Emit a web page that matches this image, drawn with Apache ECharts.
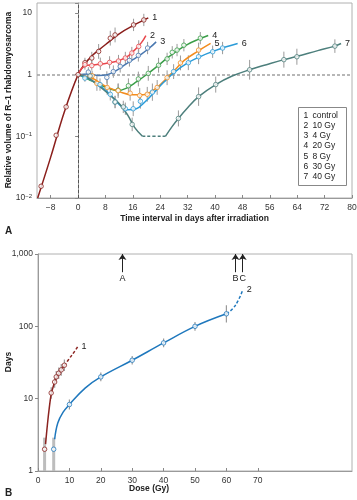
<!DOCTYPE html>
<html><head><meta charset="utf-8">
<script src="https://cdn.jsdelivr.net/npm/echarts@6/dist/echarts.min.js"></script>
<style>html,body{margin:0;padding:0;background:#fff}#c{width:357px;height:500px}</style>
</head><body><div id="c"></div>
<script>
// ===== Panel A: relative tumour volume vs time =====
const xTicksA = [-8,0,8,16,24,32,40,48,56,64,72,80];
const legendNums = ['1','2','3','4','5','6','7'];
const legendNames = ['control','10 Gy','4 Gy','20 Gy','8 Gy','30 Gy','40 Gy'];

// 1 control
const c1Line = [[-11.8,0.01],[-8,0.046],[-4,0.25],[0,1],[2,1.5],[4,2.0],[6,2.5],[9,3.4],[12,4.6],[16,6.2],[20.5,8.3]];
const c1Pts  = [[-10.8,0.0155],[-6.4,0.104],[-3.5,0.3],[0,1],[2,1.56],[4,1.86],[6,2.38],[9.4,3.9],[10.8,4.4],[16.2,6.4],[19.2,7.7]];
const c1Err  = [0.04,0.03,0.03,0,0.08,0.1,0.12,0.12,0.12,0.1,0.1];
// 2 10 Gy
const c2Line = [[0,1],[2,1.38],[5,1.45],[8,1.52],[11,1.63],[14,1.9],[16.5,2.5],[18.5,3.3],[19.8,4.3]];
const c2Pts  = [[2,1.45],[4,1.4],[6.5,1.5],[9.2,1.58],[11.8,1.66],[13.8,1.86],[15.7,2.24],[17.7,2.87]];
const c2Err  = [0.08,0.08,0.1,0.1,0.1,0.1,0.1,0.1];
// 3 4 Gy
const c3Line = [[0,1],[3,1.02],[6,0.97],[8.5,1.0],[11,1.15],[13.5,1.42],[16,1.75],[18.5,2.15],[21,2.75],[22.8,3.4]];
const c3Pts  = [[3,1.1],[8.4,0.9],[10.3,1.12],[12.3,1.36],[15,1.7],[17.6,2.05],[20.3,2.7]];
const c3Err  = [0.08,0.1,0.1,0.1,0.1,0.1,0.1];
// 4 20 Gy
const c4Line = [[0,1],[3,0.84],[6,0.7],[9,0.6],[11.5,0.55],[14,0.6],[17,0.76],[20,1.0],[23,1.35],[26,1.85],[29,2.45],[32,3.1],[35,3.7],[38,4.3]];
const c4Pts  = [[11.7,0.56],[14.7,0.66],[17.6,0.85],[20.5,1.05],[23.5,1.42],[26,1.8],[27.5,2.3],[28.9,2.5],[30.9,3.0],[35.7,3.9]];
const c4Err  = [0.1,0.12,0.12,0.12,0.12,0.1,0.1,0.1,0.1,0.1];
// 5 8 Gy
const c5Line = [[0,1],[4,0.88],[8,0.65],[12,0.53],[16,0.47],[19,0.47],[22,0.56],[25,0.78],[28,1.15],[31,1.7],[35,2.4],[38.7,3.2]];
const c5Pts  = [[4.1,0.96],[5.5,0.72],[8.5,0.62],[11.7,0.55],[15.2,0.5],[18,0.46],[20.2,0.48],[23.1,0.62],[26,0.89],[29.9,1.55],[35.2,2.5]];
const c5Err  = [0.08,0.12,0.12,0.12,0.12,0.12,0.12,0.12,0.12,0.12,0.12];
// 6 30 Gy
const c6Line = [[0,1],[3,0.86],[6,0.68],[9,0.5],[12,0.33],[14.5,0.27],[17,0.28],[19.5,0.36],[22,0.5],[25,0.75],[28,1.08],[32,1.55],[36,2.0],[40,2.45],[43,2.8],[46.6,3.2]];
const c6Pts  = [[2,0.88],[6.4,0.69],[9.4,0.48],[10.8,0.36],[13.8,0.28],[16.1,0.28],[18.2,0.37],[21.7,0.52],[27.9,1.12],[32.2,1.56],[35.2,1.95],[39.3,2.35],[42.2,2.7]];
const c6Err  = [0.06,0.1,0.1,0.1,0.1,0.12,0.12,0.14,0.12,0.12,0.12,0.1,0.1];
// 7 40 Gy
const c7Line  = [[0,1],[3,0.88],[6,0.66],[9,0.48],[12,0.34],[14.5,0.22],[16.5,0.14],[18.8,0.1]];
const c7Gap   = [[18.8,0.1],[25.5,0.1]];
const c7Line2 = [[25.5,0.1],[27.5,0.145],[29.3,0.195],[32,0.29],[35.2,0.44],[40.2,0.69],[45,0.95],[50.1,1.2],[55,1.45],[60.1,1.75],[64,1.98],[70,2.45],[75,2.9],[76.8,3.2]];
const c7Pts   = [[3.5,0.95],[10.8,0.36],[13.2,0.3],[15.8,0.156],[29.3,0.195],[35.2,0.44],[40.2,0.69],[50.1,1.2],[60.1,1.75],[63.9,1.95],[75,2.9]];
const c7Err   = [0.08,0.1,0.1,0.11,0.13,0.15,0.13,0.16,0.13,0.13,0.11];

// ===== Panel B: days vs dose =====
const xTicksB = [0,10,20,30,40,50,60,70];
const b1Line = [[2.4,2.35],[3,4.4],[3.6,7.5],[4.2,11.5],[5,15.5],[6,20],[7.4,25],[8.4,28.5]];
const b1Dash = [[8.4,28.5],[10,36],[11.5,44],[12.6,52]];
const b1Pts  = [[2.1,2],[4.2,12],[5.3,17],[5.8,20],[6.6,22.5],[7.4,25],[8.4,29]];
const b1Err  = [[0.301,0.16],0.08,0.08,0.08,0.08,0.08,0.08];
const b2Line = [[5.3,2.75],[6.3,4.6],[8,6.5],[10,8.3],[15,14],[20,20],[30,34],[40,59],[50,100],[60,149]];
const b2Dash = [[60,149],[62,175],[63.8,230],[65.2,318]];
const b2Pts  = [[5,2],[10,8.3],[20,20],[30,34],[40,59],[50,100],[60,149]];
const b2Err  = [[0.301,0.16],0.07,0.06,0.06,0.06,0.06,0.12];
const arrowDoses  = [26.9,62.9,65.2];
const arrowLabels = ['A','B','C'];

const FONT = '"Liberation Sans", Arial, Helvetica, sans-serif';
const GRAY = '#9a9a9a';

function lineS(data, color, xi, label, dashed) {
  const s = {type:'line', xAxisIndex:xi, yAxisIndex:xi, data:data, smooth:0.4,
    showSymbol:false, symbol:'none', z:3, silent:true,
    lineStyle:{color:color, width:1.5, type: dashed ? [3,2] : 'solid'}};
  if (label) s.endLabel = {show:true, formatter:label, color:'#222', fontSize:9, distance:4, fontFamily:FONT};
  return s;
}
function ptsS(data, color, xi) {
  return {type:'scatter', xAxisIndex:xi, yAxisIndex:xi, data:data, symbol:'circle', symbolSize:4.5, z:4, silent:true,
    itemStyle:{color:'#fff', borderColor:color, borderWidth:1}};
}
function errS(pts, err, xi, width, color) {
  return {type:'custom', xAxisIndex:xi, yAxisIndex:xi, silent:true, z:2, clip:true,
    data: pts.map((p,i)=>{const e=err[i]; const d=Array.isArray(e)?e[0]:e; const u=Array.isArray(e)?e[1]:e;
      return [p[0], p[1]/Math.pow(10,d), p[1]*Math.pow(10,u), Array.isArray(e)?1:0];}),
    encode:{x:0, y:[1,2]},
    renderItem:(params, api)=>{
      const a = api.coord([api.value(0), api.value(1)]);
      const b = api.coord([api.value(0), api.value(2)]);
      const wide = api.value(3) === 1;
      return {type:'line', shape:{x1:a[0],y1:a[1],x2:b[0],y2:b[1]},
        style:{stroke: wide ? '#bdbdbd' : color, lineWidth: wide ? 3 : width}};
    }};
}

const COL = ['#8b1f1c','#e8474c','#4a78b0','#3a9d48','#f28c1e','#2a9bd8','#4d7f7c'];
const topSets = [[c1Line,c1Pts,c1Err],[c2Line,c2Pts,c2Err],[c3Line,c3Pts,c3Err],[c4Line,c4Pts,c4Err],[c5Line,c5Pts,c5Err],[c6Line,c6Pts,c6Err]];

const series = [];
topSets.forEach((s,i)=>{ series.push(errS(s[1], s[2], 0, 1, GRAY)); });
series.push(errS(c7Pts, c7Err, 0, 1, GRAY));
topSets.forEach((s,i)=>{ series.push(lineS(s[0], COL[i], 0, legendNums[i], false)); });
series.push(lineS(c7Line, COL[6], 0, null, false));
series.push(lineS(c7Gap, COL[6], 0, null, true));
series.push(lineS(c7Line2, COL[6], 0, legendNums[6], false));
topSets.forEach((s,i)=>{ series.push(ptsS(s[1], COL[i], 0)); });
series.push(ptsS(c7Pts, COL[6], 0));
// reference lines in panel A
series[7].markLine = {silent:true, symbol:'none', label:{show:false}, z:1,
  data:[{yAxis:1, lineStyle:{type:[3,2], color:'#a0a0a0', width:1.5}},
        {xAxis:0, lineStyle:{type:[3,2], color:'#444', width:0.8}}]};

// panel B
const BR = '#8b2320', BB = '#1f78bd';
series.push(errS(b1Pts, b1Err, 1, 1.2, GRAY));
series.push(errS(b2Pts, b2Err, 1, 1.2, GRAY));
series.push(lineS(b1Line, BR, 1, null, false));
series.push(lineS(b1Dash, BR, 1, '1', true));
const b2s = lineS(b2Line, BB, 1, null, false);
b2s.markLine = {silent:true, symbol:['arrow','none'], symbolSize:6,
  lineStyle:{color:'#222', width:1, type:'solid'},
  label:{show:true, position:'end', formatter:'{b}', color:'#222', fontSize:9, distance:2, fontFamily:FONT},
  data: arrowDoses.map((d,i)=>[{name:arrowLabels[i], coord:[d,1000]},{coord:[d,560]}])};
series.push(b2s);
series.push(lineS(b2Dash, BB, 1, '2', true));
series.push(ptsS(b1Pts, BR, 1));
series.push(ptsS(b2Pts, BB, 1));

const axisLineC = {lineStyle:{color:'#9a9a9a', width:1}};
const lblStyle = {color:'#333', fontSize:8.5, fontFamily:FONT};
const nameStyle = {color:'#222', fontSize:8.5, fontWeight:'bold', fontFamily:FONT};

function supFmt(v){
  const e = Math.round(Math.log10(v));
  if (Math.abs(v - Math.pow(10,e)) > 1e-6*Math.pow(10,e)) return '';
  if (e === 1) return '10';
  if (e === 0) return '1';
  return '10{s|\u2212' + (-e) + '}';
}

const option = {
  animation:false,
  backgroundColor:'#fff',
  textStyle:{fontFamily:FONT},
  grid:[
    {left:37, right:5, top:3, height:195, show:true, borderColor:'#b0b0b0', borderWidth:1, backgroundColor:'transparent', containLabel:false, outerBoundsMode:'none'},
    {left:38, right:5, top:254, height:217, show:true, borderColor:'#b0b0b0', borderWidth:1, backgroundColor:'transparent', containLabel:false, outerBoundsMode:'none'}
  ],
  xAxis:[
    {gridIndex:0, type:'value', min:-12, max:80, axisLine:axisLineC, splitLine:{show:false},
     axisTick:{inside:true, length:3, customValues:xTicksA, lineStyle:{color:'#888'}},
     axisLabel:Object.assign({customValues:xTicksA, margin:5, formatter:v=>v<0?'\u2212'+(-v):String(v)}, lblStyle),
     name:'Time interval in days after irradiation', nameLocation:'middle', nameGap:16, nameTextStyle:nameStyle},
    {gridIndex:1, type:'value', min:0, max:100, axisLine:axisLineC, splitLine:{show:false},
     axisTick:{inside:true, length:3, customValues:xTicksB, lineStyle:{color:'#888'}},
     axisLabel:Object.assign({customValues:xTicksB, margin:5}, lblStyle)}
  ],
  yAxis:[
    {gridIndex:0, type:'log', logBase:10, min:0.01, max:14.5, axisLine:Object.assign({show:true},axisLineC), splitLine:{show:false},
     axisTick:{length:3, lineStyle:{color:'#888'}},
     axisLabel:Object.assign({formatter:supFmt, margin:5, rich:{s:{fontSize:6, verticalAlign:'top', color:'#333', fontFamily:FONT}}}, lblStyle)},
    {gridIndex:1, type:'log', logBase:10, min:1, max:1000, axisLine:Object.assign({show:true},axisLineC), splitLine:{show:false},
     axisTick:{length:3, lineStyle:{color:'#888'}},
     axisLabel:Object.assign({formatter:v=>{const r=Math.round(v); return r>=1000? r.toLocaleString('en-US') : String(r);}, margin:5}, lblStyle)}
  ],
  series:series,
  graphic:[
    {type:'group', left:298, top:107, children:
      [{type:'rect', shape:{x:0,y:0,width:48,height:78}, style:{fill:'#fff', stroke:'#888', lineWidth:1}}]
      .concat(legendNums.map((n,i)=>({type:'text', x:5, y:8+i*10.2, style:{text:n, fontSize:8.5, fill:'#222', verticalAlign:'middle', fontFamily:FONT}})))
      .concat(legendNames.map((n,i)=>({type:'text', x:14, y:8+i*10.2, style:{text:n, fontSize:8.5, fill:'#222', verticalAlign:'middle', fontFamily:FONT}})))
    },
    {type:'text', x:9, y:100, rotation:Math.PI/2, style:{text:'Relative volume of R\u20131 rhabdomyosarcoma', align:'center', verticalAlign:'middle', fontSize:8.5, fontWeight:'bold', fill:'#222', fontFamily:FONT}},
    {type:'text', x:9, y:362, rotation:Math.PI/2, style:{text:'Days', align:'center', verticalAlign:'middle', fontSize:8.5, fontWeight:'bold', fill:'#222', fontFamily:FONT}},
    {type:'text', left:5, top:226, style:{text:'A', fontSize:10, fontWeight:'bold', fill:'#222', fontFamily:FONT}},
    {type:'text', left:5, top:488, style:{text:'B', fontSize:10, fontWeight:'bold', fill:'#222', fontFamily:FONT}},
    {type:'text', left:129, top:484, style:{text:'Dose (Gy)', fontSize:8.5, fontWeight:'bold', fill:'#222', fontFamily:FONT}}
  ]
};
const chart = echarts.init(document.getElementById('c'), null, {renderer:'canvas'});
chart.setOption(option);
</script></body></html>
